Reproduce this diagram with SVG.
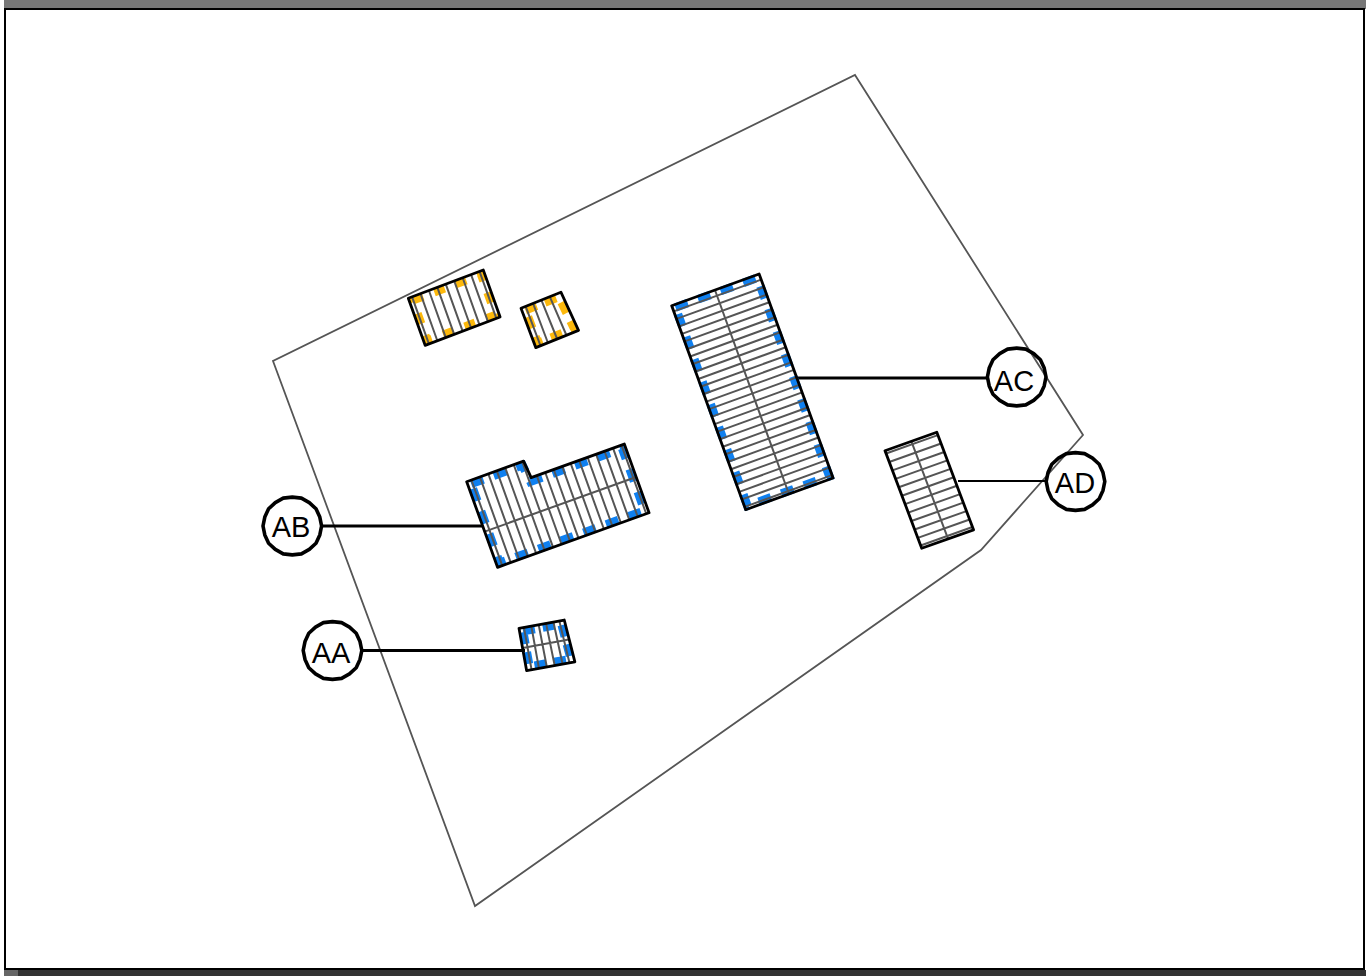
<svg xmlns="http://www.w3.org/2000/svg" width="1372" height="976" viewBox="0 0 1372 976">
<style>
.out{fill:none;stroke:#000;stroke-width:2.8;stroke-linejoin:round}
.rib{fill:none;stroke:#555;stroke-width:2}
.blue{fill:none;stroke:#0f80f0;stroke-width:8.5}
.yel{fill:none;stroke:#fdb90c;stroke-width:8.5}
.site{fill:none;stroke:#555;stroke-width:1.8}
.con{stroke:#000;stroke-width:3.2;fill:none}
.thin{stroke:#000;stroke-width:1.8;fill:none}
.tag{fill:none;stroke:#000;stroke-width:3.6;stroke-linejoin:round}
.lbl{font-family:"Liberation Sans",Arial,sans-serif;font-size:29px;fill:#000;text-anchor:middle}
</style>
<defs>
<polygon id="ring" points="29.300,0 27.500,8.900 23.700,17.200 17,23.400 9.100,27.900 0,28.900 -9.100,27.900 -17,23.400 -23.700,17.200 -27.500,8.900 -29.300,0 -27.500,-8.900 -23.700,-17.200 -17,-23.400 -9.100,-27.900 0,-28.900 9.100,-27.900 17,-23.400 23.700,-17.200 27.500,-8.900"/>
</defs>
<rect width="1372" height="976" fill="#fff"/>
<g id="frame">
<rect x="4" y="0" width="1362" height="9" fill="#777"/>
<rect x="18" y="970" width="1348" height="6" fill="#333"/>
<rect x="4" y="970" width="14" height="6" fill="#666"/>
<rect x="5" y="9" width="1359" height="960" fill="#fff" stroke="#000" stroke-width="2"/>
</g>
<polygon id="site" class="site" points="855,75 1083,435 981,550 475,906 273,361"/>
<g id="connectors">
<line class="con" x1="797" y1="378" x2="988" y2="378"/>
<line class="thin" x1="958" y1="481" x2="1046" y2="481"/>
<line class="con" x1="322" y1="526" x2="483" y2="526"/>
<line class="con" x1="362" y1="650.5" x2="525" y2="650.5"/>
</g>
<g id="building-ac" transform="matrix(.94 -.341 .341 .94 671.7 305.7)">
<rect class="blue" x="3" y="3" width="87" height="211" stroke-dasharray="13 11"/>
<path class="rib" d="M0 6H93M0 14H93M0 22H93M0 30H93M0 38H93M0 46H93M0 54H93M0 62H93M0 70H93M0 78H93M0 86H93M0 94H93M0 102H93M0 110H93M0 118H93M0 126H93M0 134H93M0 142H93M0 150H93M0 158H93M0 166H93M0 174H93M0 182H93M0 190H93M0 198H93M0 206H93M0 214H93M46 0V217"/>
<rect class="out" width="93" height="217"/>
</g>
<g id="building-ad" transform="matrix(.942 -.335 .353 .938 885 450.7)">
<path class="rib" d="M0 3H55M0 12H55M0 21H55M0 30H55M0 39H55M0 48H55M0 57H55M0 66H55M0 75H55M0 84H55M0 93H55M0 101H55M28 0V104"/>
<rect class="out" width="55" height="104"/>
</g>
<g id="building-ab" transform="matrix(.941 -.339 .339 .941 466.7 481.7)">
<path class="blue" d="M3.500 3.500H58L60 21.500H157.500V87.500H3.500Z" stroke-dasharray="13 11"/>
<path class="rib" d="M5 0V91M14 0V91M23 0V91M32 0V91M41 0V91M50 0V91M59 0V91M68 18V91M77 18V91M86 18V91M95 18V91M104 18V91M113 18V91M122 18V91M131 18V91M140 18V91M149 18V91M158 18V91M0 53H161"/>
<polygon class="out" points="0,0 60.5,0 62,18 161,18 161,91 0,91"/>
</g>
<g id="building-aa" transform="matrix(.984 -.18 .178 .985 519 628.3)">
<path class="blue" d="M3.500 3.500H42.500L45.500 39.500H3.500Z" stroke-dasharray="12 8"/>
<path class="rib" d="M5 0V43M12.500 0V43M20 0L20.500 43M27.500 0L28.500 43M35 0L36.500 43M41 0L43.500 43M0 20H47"/>
<polygon class="out" points="0,0 46,0 49,43 0,43"/>
</g>
<g id="building-y1" transform="matrix(.937 -.354 .337 .941 408.300 298.300)">
<rect class="yel" x="3.500" y="3.500" width="73" height="43" stroke-dasharray="11 12"/>
<path class="rib" d="M4 0V50M13 0V50M22 0V50M31 0V50M40 0V50M49 0V50M58 0V50M67 0V50M76 0V50"/>
<rect class="out" width="80" height="50"/>
</g>
<g id="building-y2" transform="matrix(.928 -.374 .353 .936 521 308.300)">
<path class="yel" d="M3.500 3.500H39.500L42.500 38.500H3.500Z" stroke-dasharray="12 9"/>
<path class="rib" d="M5 0V42M13 0V42M22 0L23 42M31 0L33 42"/>
<polygon class="out" points="0,0 43,0 46,42 0,42"/>
</g>
<g id="AC"><use href="#ring" class="tag" x="1016.700" y="377"/><text class="lbl" x="1014" y="391">AC</text></g>
<g id="AD"><use href="#ring" class="tag" x="1075.500" y="481.500"/><text class="lbl" x="1075" y="493">AD</text></g>
<g id="AB"><use href="#ring" class="tag" x="292.300" y="526"/><text class="lbl" x="291" y="537">AB</text></g>
<g id="AA"><use href="#ring" class="tag" x="332.500" y="650.500"/><text class="lbl" x="331" y="663">AA</text></g>
</svg>
